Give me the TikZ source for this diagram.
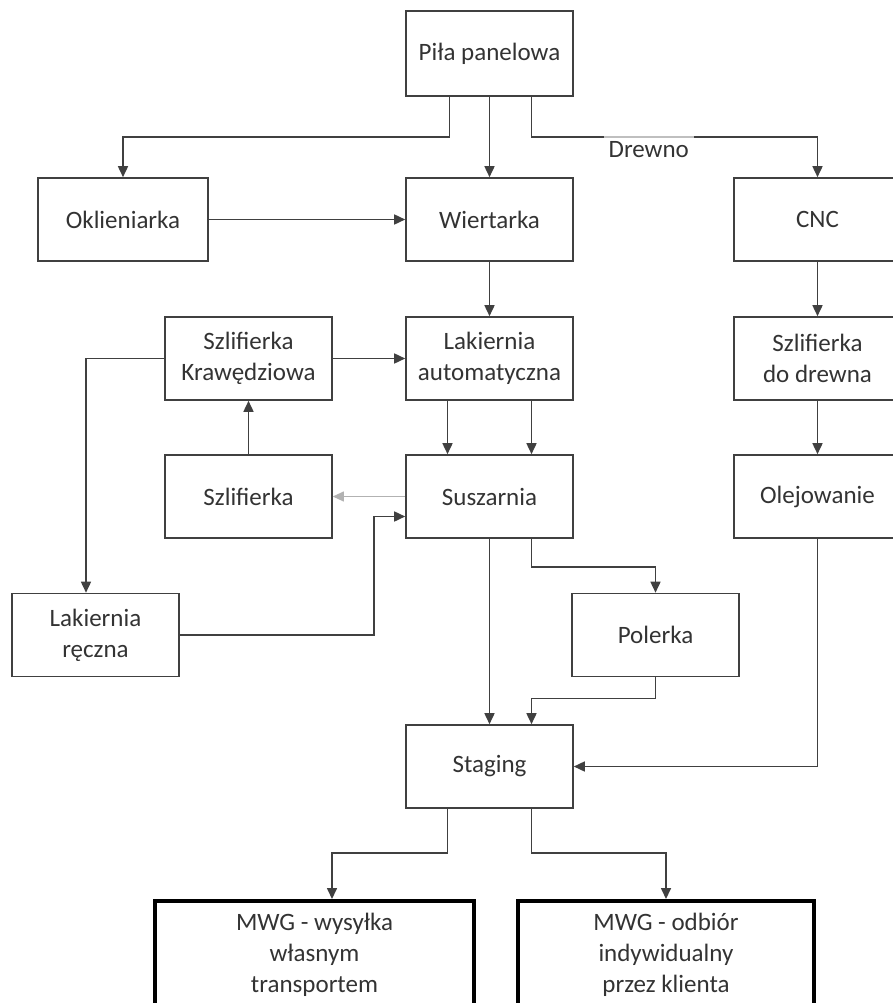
\documentclass[tikz,border=0pt]{standalone}
\usepackage{fontspec}
\setmainfont{Carlito}
\usetikzlibrary{arrows.meta}
\begin{document}
\begin{tikzpicture}[x=1pt, y=-1pt,
    box/.style={draw=black!75, line width=1.6pt, text=black!80, minimum width=167pt, minimum height=83pt, align=center, inner sep=2pt, font=\fontsize{25}{31}\selectfont},
    endbox/.style={box, draw=black, line width=4pt, anchor=north, inner ysep=12pt, text depth=130pt},
    flow/.style={draw=black!75, line width=1.6pt, -{Triangle[length=11pt, width=10pt]}},
    weak/.style={flow, draw=black!30, line width=1pt}]
    \clip (0,0) rectangle (893,1003);
    \node[box, minimum height=85pt] (pila) at (489.5,53.5) {Piła panelowa};
    \node[box, minimum width=170pt] (oklej) at (123,219.5) {Oklieniarka};
    \node[box] (wiert) at (489.5,219.5) {Wiertarka};
    \node[box] (cnc) at (817.5,219.5) {CNC};
    \node[box] (szlkr) at (248.5,358.5) {Szlifierka\\Krawędziowa};
    \node[box] (lakaut) at (489.5,358.5) {Lakiernia\\automatyczna};
    \node[box] (szldr) at (817.5,358.5) {Szlifierka\\do drewna};
    \node[box] (szl) at (248.5,496.5) {Szlifierka};
    \node[box] (susz) at (489.5,496.5) {Suszarnia};
    \node[box] (olej) at (817.5,496.5) {Olejowanie};
    \node[box] (lakr) at (95.5,635) {Lakiernia\\ręczna};
    \node[box] (poler) at (655.5,635) {Polerka};
    \node[box] (stag) at (489.5,766.5) {Staging};
    \node[endbox, minimum width=319pt] (mwg1) at (314.5,899) {MWG - wysyłka\\własnym\\transportem};
    \node[endbox, minimum width=296pt] (mwg2) at (666,899) {MWG - odbiór\\indywidualny\\przez klienta};
    \draw[flow] ([xshift=-40pt]pila.south) -- ++(0,40) -| (oklej.north);
    \draw[flow] (pila) -- (wiert);
    \draw[flow] ([xshift=42pt]pila.south) -- ++(0,40) -| node[pos=0.205, below, inner sep=4pt, text=black!80, font=\fontsize{25}{31}\selectfont] (drewno) {Drewno} (cnc.north);
    \draw[black!25, line width=1.6pt] (drewno.north west) -- (drewno.north east);
    \draw[flow] (oklej) -- (wiert);
    \draw[flow] (wiert) -- (lakaut);
    \draw[flow] (cnc) -- (szldr);
    \draw[flow] (szldr) -- (olej);
    \draw[flow] (szlkr) -- (lakaut);
    \draw[flow] ([xshift=-42pt]lakaut.south) -- ([xshift=-42pt]susz.north);
    \draw[flow] ([xshift=42pt]lakaut.south) -- ([xshift=42pt]susz.north);
    \draw[flow] (szl) -- (szlkr);
    \draw[weak] (susz.west) -- (szl.east);
    \draw[flow] (szlkr.west) -| ([xshift=-9.5pt]lakr.north);
    \draw[flow] (lakr.east) -- ++(194,0) |- ([yshift=-20pt]susz.west);
    \draw[flow] (susz) -- (stag);
    \draw[flow] ([xshift=42pt]susz.south) -- ++(0,28) -| (poler.north);
    \draw[flow] (poler.south) -- ++(0,21) -| ([xshift=42pt]stag.north);
    \draw[flow] (olej.south) |- (stag.east);
    \draw[flow] ([xshift=-42pt]stag.south) -- ++(0,44) -| ([xshift=17.5pt]mwg1.north);
    \draw[flow] ([xshift=42pt]stag.south) -- ++(0,44) -| (mwg2.north);
\end{tikzpicture}
\end{document}
